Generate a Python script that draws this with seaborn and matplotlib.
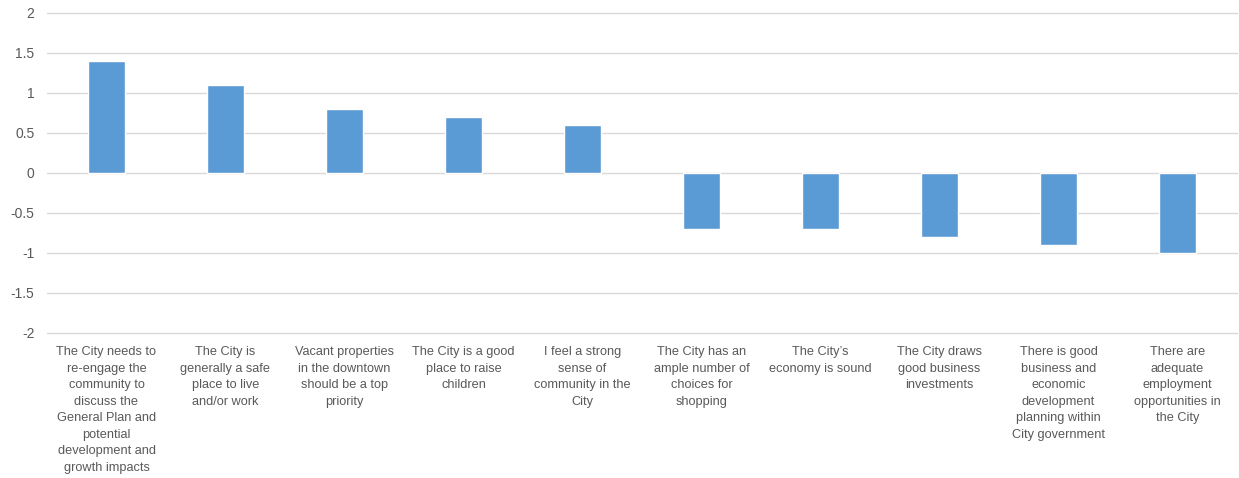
import matplotlib
matplotlib.use("Agg")
import matplotlib.pyplot as plt
import seaborn as sns
import pandas as pd

categories = [
    "The City needs to\nre-engage the\ncommunity to\ndiscuss the\nGeneral Plan and\npotential\ndevelopment and\ngrowth impacts",
    "The City is\ngenerally a safe\nplace to live\nand/or work",
    "Vacant properties\nin the downtown\nshould be a top\npriority",
    "The City is a good\nplace to raise\nchildren",
    "I feel a strong\nsense of\ncommunity in the\nCity",
    "The City has an\nample number of\nchoices for\nshopping",
    "The City\u2019s\neconomy is sound",
    "The City draws\ngood business\ninvestments",
    "There is good\nbusiness and\neconomic\ndevelopment\nplanning within\nCity government",
    "There are\nadequate\nemployment\nopportunities in\nthe City",
]
values = [1.4, 1.1, 0.8, 0.7, 0.6, -0.7, -0.7, -0.8, -0.9, -1.0]
yticks = [-2, -1.5, -1, -0.5, 0, 0.5, 1, 1.5, 2]
ytick_labels = ["-2", "-1.5", "-1", "-0.5", "0", "0.5", "1", "1.5", "2"]

sns.set_theme(style="white")
plt.rcParams['font.family'] = ['Liberation Sans', 'DejaVu Sans']

df = pd.DataFrame({"cat": categories, "val": values})

W, H = 1239, 478
fig = plt.figure(figsize=(W / 100, H / 100), dpi=100)
ax = fig.add_axes([47 / W, 1 - 333 / H, (1237 - 47) / W, 320 / H])

sns.barplot(data=df, x="cat", y="val", color="#5B9BD5", saturation=1,
            width=0.31, ax=ax, zorder=3)

ax.set_ylim(-2, 2)
ax.set_xlim(-0.5, len(categories) - 0.5)
ax.set_yticks(yticks)
ax.set_yticklabels(ytick_labels)
ax.yaxis.grid(True, color="#D9D9D9", linewidth=1.0, zorder=0)
ax.xaxis.grid(False)
for gl in ax.get_ygridlines():
    gl.set_clip_on(False)
for s in ax.spines.values():
    s.set_visible(False)
ax.set_xlabel("")
ax.set_ylabel("")

ax.tick_params(axis="y", length=0, pad=9, labelsize=10, labelcolor="#595959")
ax.tick_params(axis="x", length=0, pad=9.5, labelsize=9.2, labelcolor="#595959")
for lbl in ax.get_xticklabels():
    lbl.set_verticalalignment("top")
    lbl.set_multialignment("center")
    lbl.set_linespacing(1.5)

fig.savefig("out.png", dpi=100, facecolor="white")
